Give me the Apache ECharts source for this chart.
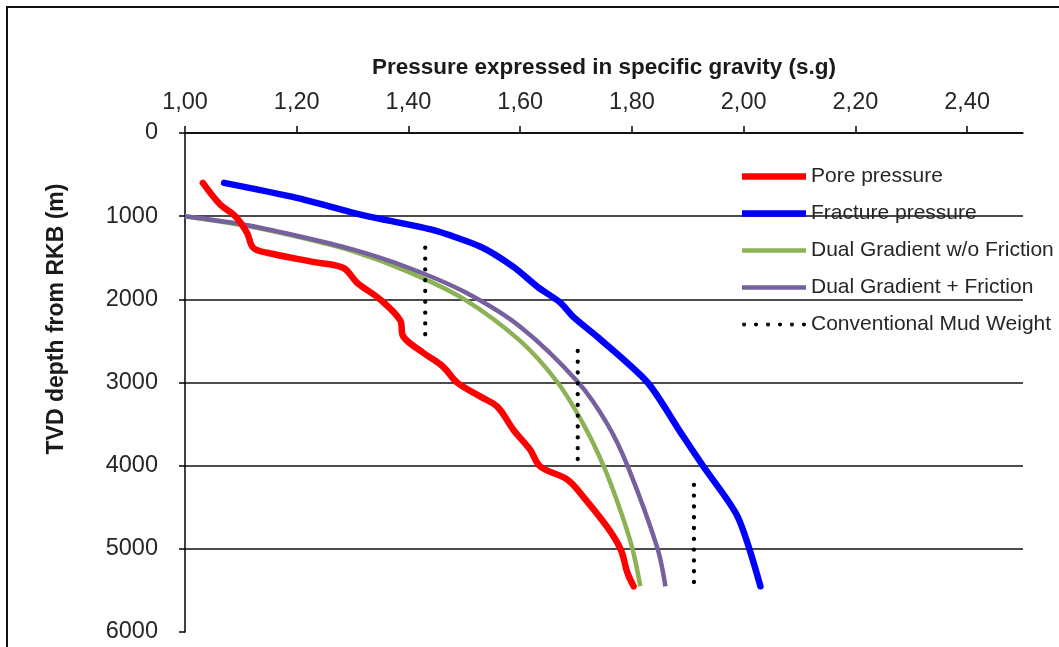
<!DOCTYPE html>
<html>
<head>
<meta charset="utf-8">
<script src="https://cdn.jsdelivr.net/npm/echarts@6/dist/echarts.min.js"></script>
<style>
html,body{margin:0;padding:0;background:#fff;}
#c{width:1059px;height:647px;}
</style>
</head>
<body>
<div id="c"></div>
<script>
// ---- data ----
const xTicks = [1.0, 1.2, 1.4, 1.6, 1.8, 2.0, 2.2, 2.4];

const poreX = [1.032,1.063,1.09,1.111,1.122,1.147,1.229,1.283,1.308,1.349,1.385,1.391,1.427,1.462,1.487,1.529,1.559,1.588,1.618,1.636,1.685,1.713,1.756,1.78,1.792,1.803];
const poreD = [600,860,1000,1200,1380,1440,1550,1620,1800,2000,2250,2450,2645,2810,3000,3170,3290,3570,3810,4010,4170,4375,4740,5010,5290,5450];

const fracX = [1.07,1.2,1.32,1.44,1.53,1.588,1.631,1.672,1.695,1.738,1.828,1.887,1.928,1.989,2.03];
const fracD = [600,780,990,1160,1370,1610,1850,2040,2210,2450,3000,3600,4010,4610,5450];

const dgX = [1.0,1.1,1.2,1.3,1.4,1.5,1.6,1.667,1.713,1.749,1.78,1.801,1.815];
const dgD = [1000,1105,1245,1420,1670,2000,2500,3000,3500,4000,4550,5000,5450];

const dgfX = [1.0,1.1,1.2,1.3,1.4,1.5,1.6,1.704,1.756,1.792,1.846,1.86];
const dgfD = [1000,1095,1235,1400,1620,1910,2330,3000,3500,4000,5000,5450];

const mudX = [1.43, 1.703, 1.911];
const mudTop = [1380, 2620, 4230];
const mudBottom = [2430, 4030, 5400];

const names = ['Pore pressure','Fracture pressure','Dual Gradient w/o Friction','Dual Gradient + Friction','Conventional Mud Weight'];

function pairs(xs, ds){ return xs.map((x,i)=>[x, ds[i]]); }

const FONT = 'Liberation Sans, Arial, sans-serif';
const chart = echarts.init(document.getElementById('c'), null, {renderer:'canvas'});

const thickIcon = 'path://M0,0 L64,0 L64,6.5 L0,6.5 Z';
const thinIcon = 'path://M0,0 L64,0 L64,4.5 L0,4.5 Z';
let dotPath = 'path://';
for (let k=0;k<6;k++){ const c = 2 + k*11.6; dotPath += 'M'+(c-2)+',2 a2,2 0 1,0 4,0 a2,2 0 1,0 -4,0 '; }

const mudSeries = mudX.map((x,i)=>({
  name: names[4], type:'line', symbol:'none', silent:true,
  data: [[x, mudTop[i]],[x, mudBottom[i]]],
  lineStyle:{color:'#000', width:4.3, type:[0.1, 10.7], cap:'round'},
  itemStyle:{color:'#000'}, z:3
}));

chart.setOption({
  animation:false,
  backgroundColor:'#fff',
  grid:{left:185, right:36, top:133, bottom:15, containLabel:false},
  xAxis:{
    type:'value', position:'top', min:1, max:2.5,
    name:'Pressure expressed in specific gravity (s.g)',
    nameLocation:'middle', nameGap:54,
    nameTextStyle:{fontFamily:FONT, fontWeight:'bold', fontSize:22.5, color:'#1a1a1a'},
    axisLine:{show:true, onZero:false, lineStyle:{color:'#000', width:1.5}},
    axisTick:{show:true, inside:false, length:7, customValues:xTicks, lineStyle:{color:'#000', width:1.5}},
    axisLabel:{customValues:xTicks, margin:18, fontFamily:FONT, fontSize:23.5, color:'#262626',
      formatter:v=>v.toFixed(2).replace('.', ',')},
    splitLine:{show:false}
  },
  yAxis:{
    type:'value', inverse:true, min:0, max:6000, interval:1000,
    axisLine:{show:true, lineStyle:{color:'#000', width:1.5}},
    axisTick:{show:true, inside:false, length:6, lineStyle:{color:'#000', width:1.5}},
    axisLabel:{margin:27, fontFamily:FONT, fontSize:23.5, color:'#262626', formatter:v=>String(v)},
    splitLine:{show:true, showMaxLine:false, lineStyle:{color:'#111', width:1.5}}
  },
  legend:{
    data:[
      {name:names[0], icon:thickIcon},
      {name:names[1], icon:thickIcon},
      {name:names[2], icon:thinIcon},
      {name:names[3], icon:thinIcon},
      {name:names[4], icon:dotPath}
    ],
    orient:'vertical', left:742, top:166, padding:0,
    itemWidth:64, itemHeight:8, itemGap:16,
    textStyle:{fontFamily:FONT, fontSize:21, color:'#262626', lineHeight:21}
  },
  graphic:[
    {type:'rect', shape:{x:7, y:7, width:1200, height:800}, style:{fill:'none', stroke:'#111', lineWidth:2}, silent:true},
    {type:'text', x:57, y:319, rotation:Math.PI/2,
      style:{text:'TVD depth from RKB (m)', font:'bold 23px Liberation Sans, Arial, sans-serif', fill:'#1a1a1a', align:'center', verticalAlign:'middle'}}
  ],
  series:[
    {name:names[2], type:'line', symbol:'none', smooth:0.3, data:pairs(dgX, dgD),
      lineStyle:{color:'#8DB255', width:4.5}, itemStyle:{color:'#8DB255'}, z:2},
    {name:names[3], type:'line', symbol:'none', smooth:0.3, data:pairs(dgfX, dgfD),
      lineStyle:{color:'#76609E', width:4.5}, itemStyle:{color:'#76609E'}, z:2},
    ...mudSeries,
    {name:names[1], type:'line', symbol:'none', smooth:0.25, data:pairs(fracX, fracD),
      lineStyle:{color:'#0000FF', width:6.5, cap:'round'}, itemStyle:{color:'#0000FF'}, z:4},
    {name:names[0], type:'line', symbol:'none', smooth:0.35, data:pairs(poreX, poreD),
      lineStyle:{color:'#FF0000', width:6.5, cap:'round'}, itemStyle:{color:'#FF0000'}, z:5}
  ]
});
</script>
</body>
</html>
